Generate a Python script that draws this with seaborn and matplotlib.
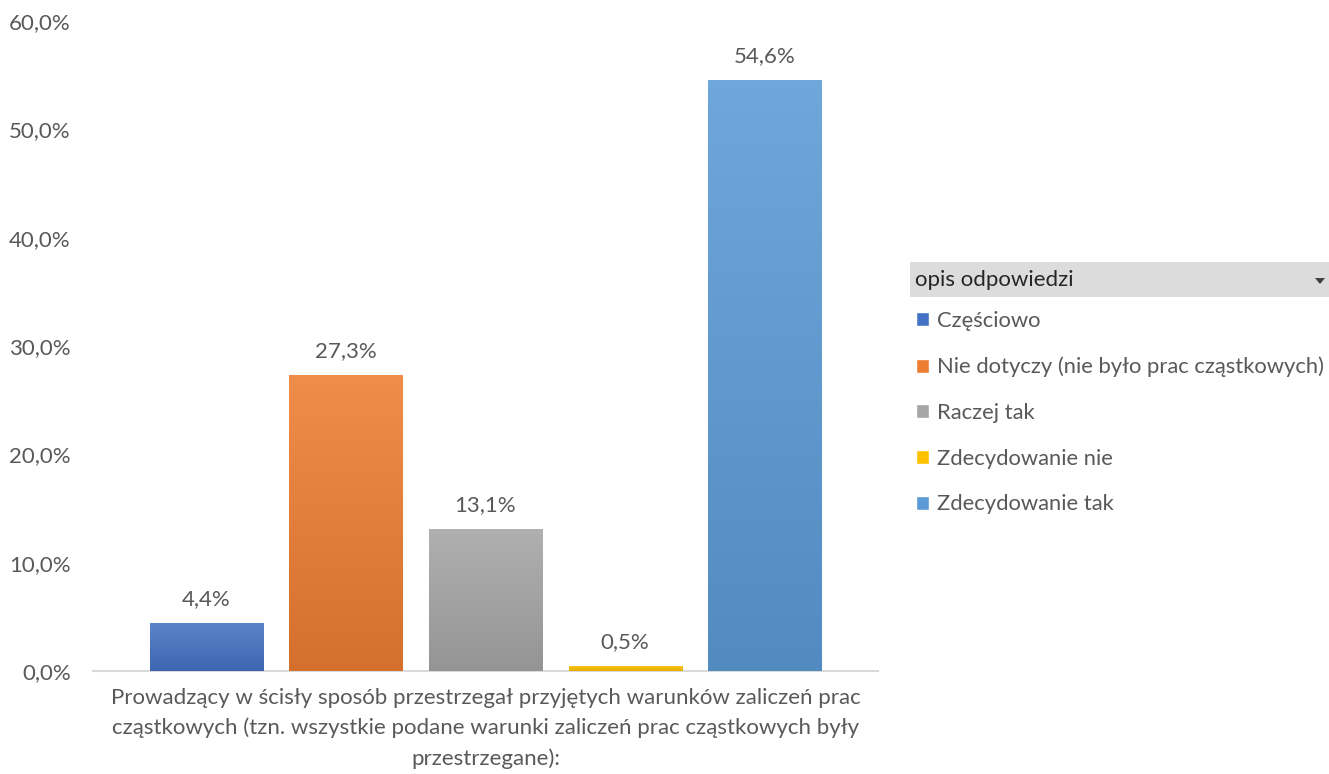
import numpy as np
import pandas as pd
import seaborn as sns
import matplotlib.pyplot as plt
import matplotlib.colors as mcolors
from matplotlib.patches import Rectangle, Polygon

# data
answers = ['Częściowo', 'Nie dotyczy (nie było prac cząstkowych)', 'Raczej tak',
           'Zdecydowanie nie', 'Zdecydowanie tak']
shares = [4.4, 27.3, 13.1, 0.5, 54.6]
colors = ['#4472C4', '#ED7D31', '#A5A5A5', '#FFC000', '#5B9BD5']
question = ('Prowadzący w ścisły sposób przestrzegał przyjętych warunków zaliczeń prac\n'
            'cząstkowych (tzn. wszystkie podane warunki zaliczeń prac cząstkowych były\n'
            'przestrzegane):')
legend_title = 'opis odpowiedzi'
y_ticks = [0, 10, 20, 30, 40, 50, 60]

sns.set_style('white')
plt.rcParams['font.family'] = ['Lato', 'DejaVu Sans']
txt = '#595959'
fs = 16

df = pd.DataFrame({'q': [question] * len(answers), 'odp': answers, 'val': shares})

fig = plt.figure(figsize=(13.29, 7.74), dpi=100)
ax = fig.add_axes([93 / 1329, 103 / 774, 785 / 1329, 650 / 774])
sns.barplot(data=df, x='q', y='val', hue='odp', hue_order=answers,
            palette=colors, width=0.889, gap=0.19, ax=ax, saturation=1, zorder=3)
leg = ax.get_legend()
handles = leg.legend_handles
leg.remove()

# vertical gradient, lighter on top like the office chart
ax.set_xlim(-0.5, 0.5)
ax.set_ylim(0, 60)
for bars, c in zip(ax.containers, colors):
    for bar in bars:
        base = np.array(mcolors.to_rgb(c))
        top = base + (1 - base) * 0.12
        bot = base * 0.9
        grad = np.linspace(0, 1, 64)[:, None]
        img = top[None, None, :] * (1 - grad[..., None]) + bot[None, None, :] * grad[..., None]
        x0, y0 = bar.get_x(), bar.get_y()
        w, h = bar.get_width(), bar.get_height()
        im = ax.imshow(img, extent=(x0, x0 + w, y0, y0 + h), origin='upper',
                       aspect='auto', zorder=4)
        im.set_clip_path(bar)
    ax.bar_label(bars, labels=[f'{v:.1f}%'.replace('.', ',') for v in bars.datavalues],
                 padding=10, fontsize=fs, color=txt, zorder=5)
ax.set_xlim(-0.5, 0.5)
ax.set_ylim(0, 60)

ax.set_yticks(y_ticks)
ax.set_yticklabels([f'{v:.1f}%'.replace('.', ',') for v in y_ticks], fontsize=fs, color=txt)
ax.tick_params(axis='y', length=0, pad=16)
ax.tick_params(axis='x', length=0, pad=12)
for lab in ax.get_xticklabels():
    lab.set_fontsize(fs)
    lab.set_color(txt)
    lab.set_linespacing(1.6)
ax.set_xlabel('')
ax.set_ylabel('')
for s in ['top', 'right', 'left']:
    ax.spines[s].set_visible(False)
ax.spines['bottom'].set_color('#d9d9d9')
ax.spines['bottom'].set_linewidth(1.5)

# legend header strip (pivot-chart field button)
fig.patches.append(Rectangle((910 / 1329, 1 - 297 / 774), 419 / 1329, 35 / 774,
                             transform=fig.transFigure, facecolor='#dcdcdc',
                             edgecolor='none'))
fig.text(915 / 1329, 1 - 280 / 774, legend_title, fontsize=fs, color='#262626',
         va='center', ha='left')
tx, ty = 1320 / 1329, 1 - 281 / 774
fig.patches.append(Polygon([(tx - 5 / 1329, ty + 3 / 774), (tx + 5 / 1329, ty + 3 / 774),
                            (tx, ty - 3 / 774)], closed=True, transform=fig.transFigure,
                           facecolor='#404040', edgecolor='none'))

fig.legend(handles, answers, loc='upper left', bbox_to_anchor=(916 / 1329, 1 - 311 / 774),
           frameon=False, fontsize=15.8, labelcolor=txt, handlelength=0.6,
           handleheight=0.6, handletextpad=0.35, labelspacing=1.17, borderaxespad=0,
           borderpad=0)

fig.savefig('out.png', dpi=100)
